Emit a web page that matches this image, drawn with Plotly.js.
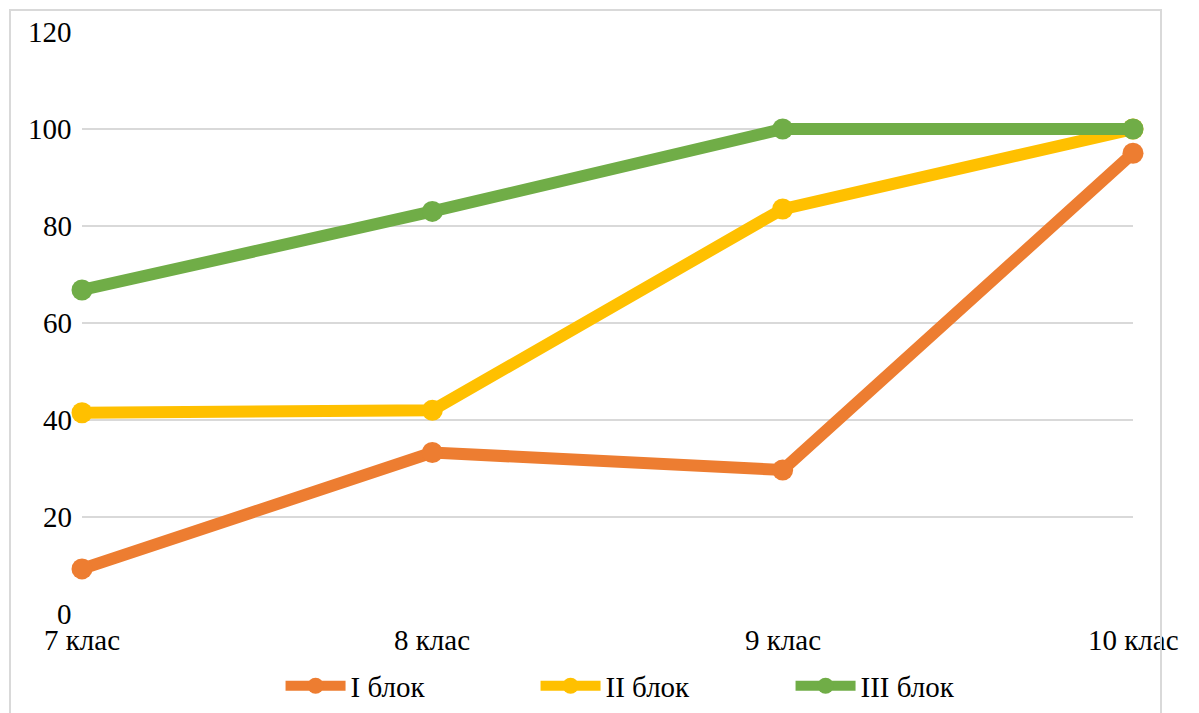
<!DOCTYPE html>
<html>
<head>
<meta charset="utf-8">
<script src="https://cdn.plot.ly/plotly-3.0.1.min.js"></script>
<style>
html,body{margin:0;padding:0;background:#fff;overflow:hidden;}
#wrap{position:relative;width:1199px;height:713px;}
#chart{position:absolute;left:0;top:0;width:1199px;height:713px;}
#frame{position:absolute;left:9px;top:9px;width:1153px;height:720px;border:2px solid #d9d9d9;pointer-events:none;box-sizing:border-box;}
</style>
</head>
<body>
<div id="wrap">
<div id="chart"></div>
<div id="frame"></div>
</div>
<script>
var categories = ["7 клас", "8 клас", "9 клас", "10 клас"];
var seriesNames = ["I блок", "II блок", "III блок"];
var block1 = [9.3, 33.3, 29.7, 95];
var block2 = [41.5, 42, 83.5, 100];
var block3 = [66.8, 83, 100, 100];
var yTicks = [0, 20, 40, 60, 80, 100, 120];
var colors = ["#ED7D31", "#FFC000", "#70AD47"];

var xIdx = categories.map(function(c, i){ return i; });
var allSeries = [block1, block2, block3];
var traces = allSeries.map(function(vals, k){
  return {
    x: xIdx, y: vals, name: seriesNames[k], type: "scatter", mode: "lines+markers",
    line: {color: colors[k], width: 12},
    marker: {color: colors[k], size: 21},
    cliponaxis: false
  };
});

function mkFont(){ return {family: "Liberation Serif", size: 29, color: "#000000"}; }

var annotations = [];
categories.forEach(function(c, i){
  annotations.push({x: i, xref: "x", y: 0, yref: "paper", yanchor: "top", xanchor: "center",
    yshift: -8, text: c, showarrow: false, font: mkFont()});
});
yTicks.forEach(function(v){
  annotations.push({x: 0, xref: "paper", y: v, yref: "y", xanchor: "right", yanchor: "middle",
    xshift: -8, text: String(v), showarrow: false, font: mkFont()});
});

var layout = {
  width: 1199, height: 713,
  margin: {l: 82, r: 66, t: 32, b: 99, autoexpand: false},
  paper_bgcolor: "#fff", plot_bgcolor: "#fff",
  font: mkFont(),
  showlegend: true,
  xaxis: {
    type: "linear", range: [0, 3], tickvals: xIdx, showticklabels: false,
    showgrid: false, zeroline: false, showline: false, ticks: "", automargin: false
  },
  yaxis: {
    range: [0, 120], tickvals: yTicks, showticklabels: false, showgrid: true, gridcolor: "#d9d9d9", gridwidth: 1.5,
    zeroline: false, showline: false, ticks: "", automargin: false
  },
  legend: {
    orientation: "h", xref: "container", x: 0.553, xanchor: "center",
    yref: "container", y: 0.038, yanchor: "middle",
    font: mkFont(), entrywidth: 180, itemwidth: 60
  },
  annotations: annotations
};
Plotly.newPlot("chart", traces, layout, {displayModeBar: false, staticPlot: true});
</script>
</body>
</html>
